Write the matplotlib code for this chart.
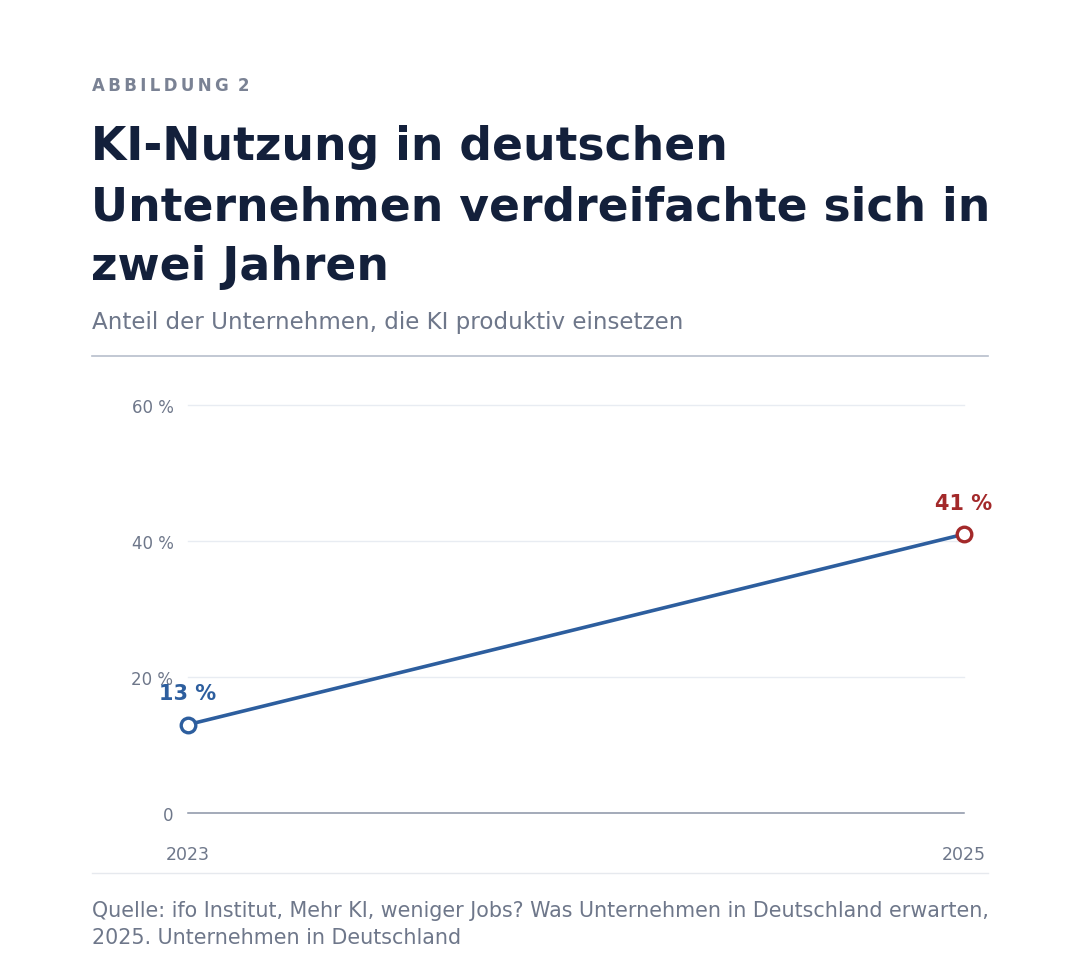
import matplotlib.pyplot as plt

# Daten
jahre = ['2023', '2025']
anteil = [13, 41]
y_ticks = [0, 20, 40, 60]
y_labels = ['0', '20 %', '40 %', '60 %']
punkt_labels = ['13 %', '41 %']

plt.rcParams['font.family'] = ['DejaVu Sans']

blau = '#2d5e9e'
rot = '#a3292a'
grau = '#6e778a'
navy = '#13203b'

fig = plt.figure(figsize=(10.8, 9.78), dpi=100)
W, H = 1080, 978

def fy(px):
    return 1 - px / H

def fx(px):
    return px / W

# Kopf
fig.text(fx(92), fy(86), '\u2009'.join('ABBILDUNG') + '\u2009 2', fontsize=12, fontweight='bold',
         color='#7a8294', va='center')
titel = ['KI-Nutzung in deutschen', 'Unternehmen verdreifachte sich in', 'zwei Jahren']
for i, t in enumerate(titel):
    fig.text(fx(91), fy(148 + i * 60), t, fontsize=32.9, fontweight='bold', color=navy,
             va='center')
fig.text(fx(92), fy(322), 'Anteil der Unternehmen, die KI produktiv einsetzen',
         fontsize=16.6, color=grau, va='center')
fig.add_artist(plt.Line2D([fx(92), fx(988)], [fy(357), fy(357)], color='#b7bfcc', lw=1.2))

# Diagramm
ax = fig.add_axes([fx(188), fy(814), fx(964) - fx(188), (814 - 406) / H])
x = list(range(len(jahre)))
ax.plot(x, anteil, color=blau, lw=2.6, zorder=3)
ax.scatter(x[0], anteil[0], s=110, facecolor='white', edgecolor=blau, lw=2.4, zorder=4)
ax.scatter(x[1], anteil[1], s=110, facecolor='white', edgecolor=rot, lw=2.4, zorder=4)
ax.text(x[0], anteil[0] + 4.6, punkt_labels[0], color=blau, fontsize=15,
        fontweight='bold', ha='center', va='center', zorder=5)
ax.text(x[1], anteil[1] + 4.6, punkt_labels[1], color=rot, fontsize=15,
        fontweight='bold', ha='center', va='center', zorder=5)

ax.set_xlim(0, 1)
ax.set_ylim(0, 60)
ax.set_yticks(y_ticks)
ax.set_yticklabels(y_labels)
ax.set_xticks(x)
ax.set_xticklabels(jahre)
ax.tick_params(axis='y', length=0, pad=10.5, labelsize=12, labelcolor=grau)
ax.tick_params(axis='x', length=0, pad=23, labelsize=12.5, labelcolor=grau)
for yv in y_ticks[1:]:
    ax.axhline(yv, color='#e8ecf2', lw=1, zorder=1)
ax.axhline(0, color='#8a93a6', lw=1.1, zorder=2)
for s in ax.spines.values():
    s.set_visible(False)
for a in ax.get_children():
    try:
        a.set_clip_on(False)
    except Exception:
        pass

# Fuss
fig.add_artist(plt.Line2D([fx(92), fx(988)], [fy(874), fy(874)], color='#e6e9ee', lw=1))
fig.text(fx(92), fy(911), 'Quelle: ifo Institut, Mehr KI, weniger Jobs? Was Unternehmen in Deutschland erwarten,',
         fontsize=14.9, color=grau, va='center')
fig.text(fx(92), fy(938), '2025. Unternehmen in Deutschland', fontsize=14.9, color=grau, va='center')

fig.savefig('out.png', dpi=100, facecolor='white')
